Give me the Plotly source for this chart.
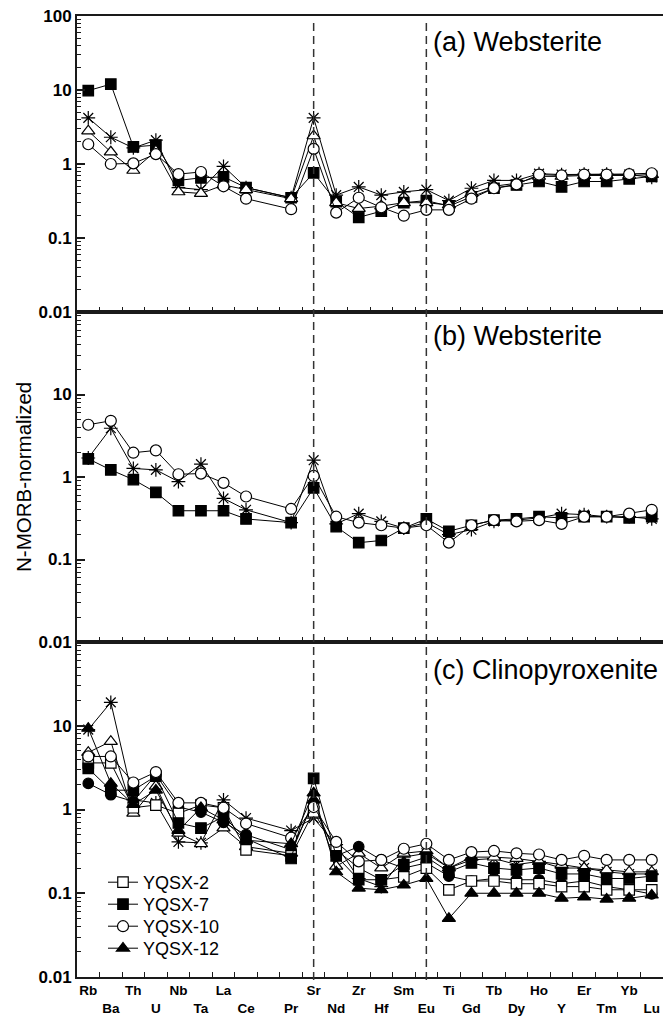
import plotly.graph_objects as go

# ---------------- data ----------------
elements = ["Rb", "Ba", "Th", "U", "Nb", "Ta", "La", "Ce", "Pr", "Sr", "Nd", "Zr", "Hf",
            "Sm", "Eu", "Ti", "Gd", "Tb", "Dy", "Ho", "Y", "Er", "Tm", "Yb", "Lu"]
# axis categories (one empty slot between Ce and Pr)
axis_categories = elements[:8] + [" "] + elements[8:]

y_tick_vals = [0.01, 0.1, 1, 10, 100]
y_tick_text_top = ["0.01", "0.1", "1", "10", "100"]
y_tick_text_low = ["0.01", "0.1", "1", "10", ""]

# Panel (a) Websterite
a_sq_filled = [9.8, 12, 1.7, 1.8, 0.6, 0.65, 0.67, 0.48, 0.35, 0.76, 0.31, 0.19, 0.23,
               0.30, 0.32, 0.27, 0.36, 0.47, 0.52, 0.58, 0.49, 0.58, 0.58, 0.63, 0.68]
a_asterisk = [4.2, 2.3, 1.65, 2.1, 0.48, 0.45, 0.93, 0.48, 0.35, 4.2, 0.38, 0.49, 0.38,
              0.42, 0.45, 0.32, 0.47, 0.6, 0.6, 0.74, 0.72, 0.73, 0.73, 0.72, 0.66]
a_tri_open = [2.8, 1.45, 0.82, 1.5, 0.42, 0.40, 0.52, 0.45, 0.34, 2.4, 0.30, 0.25, 0.27,
              0.30, 0.30, 0.28, 0.40, 0.50, 0.55, 0.68, 0.68, 0.70, 0.70, 0.70, 0.72]
a_ci_open = [1.85, 1.0, 1.02, 1.36, 0.73, 0.78, 0.5, 0.34, 0.245, 1.6, 0.22, 0.35, 0.26,
             0.20, 0.24, 0.24, 0.34, 0.47, 0.53, 0.72, 0.70, 0.72, 0.72, 0.73, 0.75]

# Panel (b) Websterite
b_ci_open = [4.3, 4.8, 1.97, 2.1, 1.08, 1.1, 0.85, 0.58, 0.41, 1.03, 0.33, 0.28, 0.26,
             0.24, 0.26, 0.16, 0.26, 0.30, 0.29, 0.30, 0.27, 0.33, 0.33, 0.36, 0.40]
b_sq_filled = [1.66, 1.22, 0.93, 0.65, 0.39, 0.39, 0.39, 0.31, 0.28, 0.74, 0.25, 0.16, 0.17,
               0.24, 0.31, 0.22, 0.26, 0.30, 0.31, 0.33, 0.32, 0.33, 0.33, 0.32, 0.33]
b_asterisk = [1.7, 3.9, 1.27, 1.22, 0.88, 1.43, 0.55, 0.40, 0.28, 1.6, 0.27, 0.36, 0.29,
              0.24, 0.28, 0.20, 0.23, 0.29, 0.30, 0.32, 0.36, 0.35, 0.33, 0.33, 0.31]

# Panel (c) Clinopyroxenite
c_yqsx2 = [3.6, 3.6, 1.05, 1.13, 0.9, 1.13, 1.05, 0.33, 0.28, 0.94, 0.33, 0.20, 0.145,
           0.157, 0.20, 0.11, 0.14, 0.14, 0.13, 0.13, 0.12, 0.12, 0.11, 0.11, 0.11]
c_yqsx7 = [3.1, 1.7, 1.7, 2.5, 0.69, 0.6, 0.82, 0.45, 0.26, 2.35, 0.28, 0.145, 0.145,
           0.22, 0.27, 0.18, 0.23, 0.20, 0.19, 0.20, 0.17, 0.17, 0.15, 0.15, 0.16]
c_yqsx10 = [4.3, 4.3, 2.1, 2.8, 1.2, 1.2, 1.05, 0.68, 0.46, 1.07, 0.41, 0.24, 0.25,
            0.34, 0.39, 0.25, 0.31, 0.32, 0.30, 0.29, 0.25, 0.28, 0.25, 0.25, 0.25]
c_yqsx12 = [9.3, 2.05, 1.15, 1.7, 0.56, 1.05, 0.75, 0.43, 0.39, 1.57, 0.18, 0.115, 0.11,
            0.125, 0.15, 0.05, 0.10, 0.10, 0.10, 0.10, 0.087, 0.09, 0.085, 0.087, 0.095]
c_ci_filled = [2.05, 1.5, 1.25, 2.6, 1.07, 0.93, 0.7, 0.5, 0.33, 1.2, 0.28, 0.36, 0.25,
               0.20, 0.23, 0.16, 0.14, 0.15, 0.145, 0.145, 0.13, 0.14, 0.12, 0.11, 0.098]
c_tri_open = [4.8, 6.5, 0.9, 1.9, 0.52, 0.39, 0.6, 0.36, 0.30, 1.3, 0.21, 0.30, 0.20,
              0.30, 0.32, 0.20, 0.27, 0.27, 0.26, 0.24, 0.22, 0.20, 0.19, 0.18, 0.18]
c_asterisk = [9.0, 19, 1.3, 1.2, 0.41, 0.40, 1.3, 0.79, 0.56, 0.79, 0.38, 0.15, 0.12,
              0.27, 0.30, 0.20, 0.25, 0.26, 0.22, 0.24, 0.20, 0.20, 0.18, 0.17, 0.17]

# ---------------- styles ----------------
STY = {
    "sq_open": dict(symbol="square", color="white", size=10.5),
    "sq_filled": dict(symbol="square", color="black", size=10.5),
    "ci_open": dict(symbol="circle", color="white", size=11),
    "ci_filled": dict(symbol="circle", color="black", size=10.5),
    "tri_filled": dict(symbol="triangle-up", color="black", size=11.5),
    "tri_open": dict(symbol="triangle-up", color="white", size=11.5),
    "ast": dict(symbol="asterisk-open", color="black", size=11.5),
}

fig = go.Figure()


def add(vals, sty, axis, name=None, legend=None):
    s = STY[sty]
    kw = {}
    if legend:
        kw["legend"] = legend
    fig.add_trace(go.Scatter(
        x=elements, y=vals, mode="lines+markers",
        line=dict(color="black", width=1),
        marker=dict(symbol=s["symbol"], color=s["color"], size=s["size"],
                    line=dict(color="black", width=1.2)),
        xaxis="x" + axis, yaxis="y" + axis,
        name=name if name else "", showlegend=name is not None, **kw
    ))


add(a_sq_filled, "sq_filled", "")
add(a_asterisk, "ast", "")
add(a_tri_open, "tri_open", "")
add(a_ci_open, "ci_open", "")

add(b_sq_filled, "sq_filled", "2")
add(b_asterisk, "ast", "2")
add(b_ci_open, "ci_open", "2")

add(c_asterisk, "ast", "3")
add(c_tri_open, "tri_open", "3")
add(c_ci_filled, "ci_filled", "3")
add(c_yqsx2, "sq_open", "3", "YQSX-2", "legend")
add(c_yqsx7, "sq_filled", "3", "YQSX-7", "legend2")
add(c_yqsx10, "ci_open", "3", "YQSX-10", "legend3")
add(c_yqsx12, "tri_filled", "3", "YQSX-12", "legend4")

# ---------------- layout ----------------
W, H = 663, 1019
ML, MR, MT, MB = 77, 0, 16, 42
PH = H - MT - MB
PW = W - ML - MR


def py(px):  # pixel y -> paper fraction
    return (H - MB - px) / PH


def pxx(px):
    return (px - ML) / PW


ticktext_x = [("" if c.strip() == "" else (c if i % 2 == 0 else "<br>" + c))
              for i, c in enumerate(axis_categories)]

AX = "#1a1a1a"
FONT = "Liberation Sans, Arial, Helvetica"
minor_vals = [k * 10 ** e for e in range(-2, 2) for k in range(2, 10)]

common_x = dict(type="category", categoryorder="array", categoryarray=axis_categories,
                tickmode="array", tickvals=axis_categories, ticktext=ticktext_x,
                tickson="boundaries", ticks="inside", ticklen=5, tickwidth=1.3,
                tickcolor=AX, showline=True, linewidth=2, linecolor=AX, mirror=True,
                showgrid=False, zeroline=False, range=[-0.5, len(axis_categories) - 0.5],
                domain=[0, 1], tickangle=0,
                tickfont=dict(family=FONT, size=13.5, color="black", weight="bold"))

common_y = dict(type="log", range=[-2, 2], tickmode="array", tickvals=y_tick_vals,
                ticks="inside", ticklen=8, tickwidth=1.5, tickcolor=AX,
                showline=True, linewidth=2, linecolor=AX, showgrid=False, zeroline=False,
                minor=dict(tickmode="array", tickvals=minor_vals, ticks="inside",
                           ticklen=4, tickwidth=1, tickcolor=AX, showgrid=False),
                tickfont=dict(family=FONT, size=17, color="black", weight="bold"))

dom_a = [py(312), 1]
dom_b = [py(642), py(312)]
dom_c = [0, py(642)]

legend_common = dict(xanchor="left", yanchor="top", bgcolor="rgba(0,0,0,0)",
                     font=dict(family=FONT, size=18, color="black"))
legends = {}
for i, key in enumerate(["legend", "legend2", "legend3", "legend4"]):
    legends[key] = dict(legend_common, x=pxx(103), y=py(864 + 22 * i))

fig.update_layout(
    width=W, height=H, margin=dict(l=ML, r=MR, t=MT, b=MB),
    plot_bgcolor="white", paper_bgcolor="white",
    xaxis=dict(common_x, anchor="y", showticklabels=False),
    xaxis2=dict(common_x, anchor="y2", showticklabels=False),
    xaxis3=dict(common_x, anchor="y3", showticklabels=True),
    yaxis=dict(common_y, domain=dom_a, anchor="x", ticktext=y_tick_text_top),
    yaxis2=dict(common_y, domain=dom_b, anchor="x2", ticktext=y_tick_text_low),
    yaxis3=dict(common_y, domain=dom_c, anchor="x3", ticktext=y_tick_text_low),
    showlegend=True,
    **legends,
)

# panel labels
for txt, ypx in [("(a) Websterite", 42), ("(b) Websterite", 336), ("(c) Clinopyroxenite", 670)]:
    fig.add_annotation(text=txt, xref="paper", yref="paper", x=pxx(431), y=py(ypx),
                       xanchor="left", yanchor="middle", showarrow=False,
                       font=dict(family=FONT, size=27, color="black"))

fig.add_annotation(text="N-MORB-normalized", xref="paper", yref="paper",
                   x=pxx(23), y=py(477), textangle=-90, showarrow=False,
                   xanchor="center", yanchor="middle",
                   font=dict(family=FONT, size=20.5, color="black"))

# dashed reference lines at Sr and Eu
for el in ["Sr", "Eu"]:
    idx = axis_categories.index(el)
    fig.add_shape(type="line", xref="x3", yref="paper", x0=idx, x1=idx,
                  y0=py(980), y1=py(22),
                  line=dict(color="#333333", width=1.5, dash="8px,5px"))

fig.write_html("out.html", config={"displayModeBar": False},
               post_script="document.body.style.margin='0px';document.body.style.overflow='hidden';")
